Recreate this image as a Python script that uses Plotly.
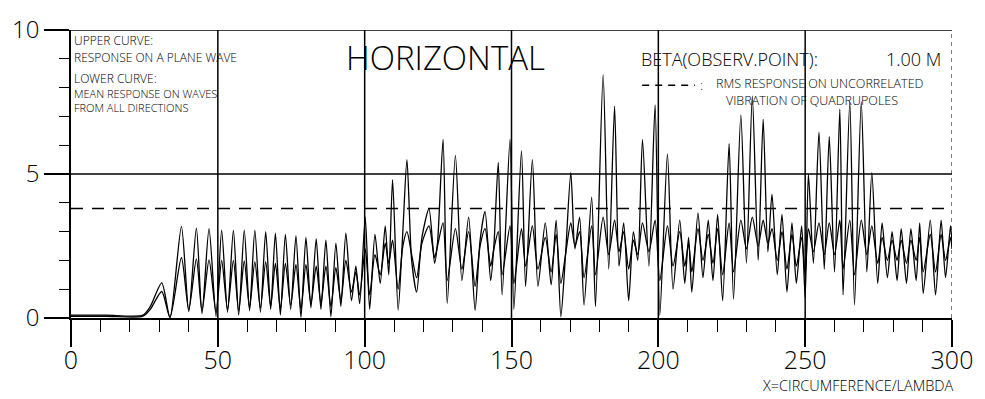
import plotly.graph_objects as go

# ---- data ----
x_pts = [0, 12.0, 24.5, 27.0, 30.9, 33.7, 37.6, 40.1, 42.7, 44.6, 47.0, 49.4, 51.3, 53.3, 55.3, 57.1,
         59.0, 60.8, 62.6, 64.5, 66.3, 68.0, 69.6, 71.3, 73.0, 74.8, 76.6, 78.3, 80.0, 81.7,
         83.5, 85.1, 86.8, 88.5, 90.2, 91.9, 93.6, 95.5, 97.0, 98.3, 100.2, 101.7, 103.5,
         105.3, 107.0, 108.2, 109.5, 111.4, 113.0, 114.4, 116.0, 117.7, 119.5, 121.9, 123.8,
         124.8, 126.7, 128.1, 130.9, 133.1, 135.4, 137.6, 139.3, 141.0, 142.9, 144.0, 145.5,
         146.8, 149.5, 150.8, 153.4, 154.8, 157.1, 159.0, 161.5, 163.5, 165.2, 166.8, 168.4,
         170.2, 171.6, 173.2, 174.7, 177.3, 178.6, 181.2, 183.1, 185.1, 186.6, 188.2, 189.9,
         191.5, 193.0, 194.6, 196.8, 198.9, 200.5, 203.1, 205.0, 207.3, 209.0, 210.3, 211.4,
         213.5, 215.2, 217.0, 218.6, 220.2, 221.9, 224.1, 225.6, 228.1, 230.0, 232.0, 234.0,
         235.7, 237.3, 238.7, 240.5, 242.1, 243.8, 245.5, 247.0, 248.8, 250.0, 251.1, 252.8,
         254.7, 256.5, 258.2, 260.0, 261.8, 262.9, 265.2, 266.8, 269.1, 271.0, 272.7, 274.7,
         276.2, 278.0, 279.6, 281.3, 282.7, 284.5, 286.0, 287.8, 289.0, 290.2, 292.6, 294.4,
         296.3, 297.8, 299.5, 300.0]

upper_y = [0.10, 0.10, 0.10, 0.40, 1.22, 0.02, 3.18, 0.22, 3.12, 0.15, 3.10, 0.05, 3.05, 0.20, 3.05, 0.10,
           3.05, 0.25, 3.05, 0.20, 3.00, 0.30, 2.95, 0.10, 2.90, 0.30, 2.85, 0.02, 2.80, 0.35,
           2.75, 0.30, 2.70, 0.05, 2.60, 0.40, 2.95, 0.60, 1.80, 0.50, 3.50, 0.30, 2.90,
           1.20, 3.20, 1.50, 4.80, 0.27, 3.00, 5.50, 2.00, 0.90, 2.80, 3.80, 1.90,
           2.60, 6.20, 0.50, 5.65, 1.30, 3.50, 0.27, 2.70, 3.70, 1.30, 2.50, 5.40,
           0.80, 6.20, 0.30, 5.80, 1.10, 5.50, 1.10, 3.30, 1.15, 3.40, 0.05, 2.20,
           5.05, 2.40, 3.50, 0.45, 4.20, 0.40, 8.45, 1.70, 7.35, 1.80, 3.30, 0.60,
           3.00, 2.00, 6.20, 1.80, 7.40, 0.10, 5.70, 1.00, 3.40, 1.20, 2.80, 0.90,
           3.65, 1.40, 3.40, 1.30, 3.60, 0.60, 6.05, 0.65, 7.05, 1.90, 7.70, 2.00,
           6.90, 2.30, 4.30, 1.50, 3.60, 0.90, 3.30, 1.20, 3.20, 0.70, 5.00, 1.90,
           6.45, 1.70, 6.30, 1.60, 7.25, 0.80, 7.50, 0.45, 7.50, 1.60, 5.05, 1.20,
           3.30, 1.40, 3.00, 1.30, 3.10, 1.20, 3.10, 1.30, 3.30, 0.85, 3.40, 0.80,
           3.40, 1.40, 3.20, 2.60]

lower_y = [0.06, 0.06, 0.06, 0.30, 0.92, 0.02, 2.10, 0.28, 2.05, 0.25, 2.02, 0.20, 2.00, 0.30, 2.00, 0.25,
           1.98, 0.35, 1.95, 0.35, 1.95, 0.40, 1.90, 0.30, 1.90, 0.45, 1.85, 0.30, 1.85, 0.50,
           1.80, 0.50, 1.80, 0.40, 1.75, 0.60, 2.00, 0.90, 1.60, 0.80, 2.40, 0.80, 2.20,
           1.50, 2.60, 1.90, 2.70, 1.00, 2.50, 3.00, 2.20, 1.40, 2.60, 3.20, 2.10,
           2.50, 3.30, 1.30, 3.10, 1.70, 3.00, 1.10, 2.50, 3.10, 1.80, 2.40, 3.00,
           1.50, 3.20, 1.20, 3.10, 1.80, 3.20, 1.70, 2.80, 1.60, 2.90, 1.20, 2.20,
           3.30, 2.50, 3.00, 1.40, 3.20, 1.50, 3.50, 2.20, 3.40, 2.30, 3.00, 1.70,
           2.70, 2.20, 3.30, 2.30, 3.40, 1.30, 3.20, 1.80, 3.00, 1.80, 2.60, 1.60,
           3.10, 2.00, 2.90, 1.90, 3.10, 1.50, 3.30, 1.60, 3.40, 2.40, 3.50, 2.50,
           3.40, 2.60, 3.10, 2.00, 3.00, 1.70, 2.90, 1.80, 2.80, 1.50, 3.10, 2.30,
           3.30, 2.20, 3.30, 2.20, 3.40, 1.70, 3.40, 1.50, 3.40, 2.20, 3.20, 1.90,
           2.80, 2.00, 2.70, 2.00, 2.70, 1.90, 2.70, 2.00, 2.80, 1.60, 2.90, 1.60,
           2.90, 2.00, 2.80, 2.40]

rms_level = 3.8
x_range = [0, 300]
y_range = [0, 10]
x_major = [0, 50, 100, 150, 200, 250, 300]
x_labels = ["0", "50", "100", "150", "200", "250", "300"]
y_major = [0, 5, 10]
y_labels = ["0", "5", "10"]
grid_x = [50, 100, 150, 200, 250]
grid_y = [5]

FONT = "Open Sans"
fig = go.Figure()

fig.add_trace(go.Scatter(x=x_range, y=[rms_level, rms_level], mode="lines",
                         line=dict(color="black", width=1.5, dash="12px,9px"),
                         hoverinfo="skip", showlegend=False))
fig.add_trace(go.Scatter(x=x_pts, y=upper_y, mode="lines",
                         line=dict(color="black", width=1.3, shape="spline", smoothing=0.7),
                         showlegend=False))
fig.add_trace(go.Scatter(x=x_pts, y=lower_y, mode="lines",
                         line=dict(color="black", width=1.3, shape="spline", smoothing=0.7),
                         showlegend=False))

shapes = []
for gx in grid_x:
    shapes.append(dict(type="line", xref="x", yref="y", x0=gx, x1=gx, y0=0, y1=10,
                       line=dict(color="black", width=1.5), layer="below"))
for gy in grid_y:
    shapes.append(dict(type="line", xref="x", yref="y", x0=0, x1=300, y0=gy, y1=gy,
                       line=dict(color="black", width=1.5), layer="below"))
shapes.append(dict(type="line", xref="x", yref="y", x0=0, x1=300, y0=10, y1=10,
                   line=dict(color="black", width=1.5), layer="below"))
shapes.append(dict(type="line", xref="x", yref="y", x0=300, x1=300, y0=0, y1=10,
                   line=dict(color="black", width=1, dash="4px,4px"), layer="below"))
shapes.append(dict(type="line", xref="x", yref="y", x0=194.5, x1=212.5, y0=8.08, y1=8.08,
                   line=dict(color="black", width=1.5, dash="7px,6px")))

ann = []
def txt(x, y, s, size, anchor="left", xref="x", yref="y"):
    ann.append(dict(x=x, y=y, xref=xref, yref=yref, text=s,
                    showarrow=False, xanchor=anchor, yanchor="middle", align="left",
                    font=dict(family=FONT, size=size, color="black", weight=300)))

txt(0.001, 9.63, "UPPER CURVE:", 12, xref="paper")
txt(0.001, 9.06, "RESPONSE ON A PLANE WAVE", 12, xref="paper")
txt(0.001, 8.33, "LOWER CURVE:", 12, xref="paper")
txt(0.001, 7.55, "MEAN RESPONSE ON WAVES<br>FROM ALL DIRECTIONS", 11, xref="paper")
txt(127.4, 9.05, "HORIZONTAL", 33, "center")
txt(193.5, 9.0, "BETA(OBSERV.POINT):", 18)
txt(296.8, 9.0, "1.00 M", 18, "right")
txt(213.5, 8.08, ":", 12)
txt(219.0, 8.14, "RMS RESPONSE ON UNCORRELATED", 12.5)
txt(222.4, 7.56, "VIBRATION OF QUADRUPOLES", 12.5)
txt(1.004, -0.236, "X=CIRCUMFERENCE/LAMBDA", 14.5, "right", xref="paper", yref="paper")

fig.update_layout(
    width=985, height=399,
    margin=dict(l=65, r=30, t=18, b=81),
    paper_bgcolor="white", plot_bgcolor="white",
    shapes=shapes, annotations=ann,
    xaxis=dict(range=x_range, tickvals=x_major, ticktext=x_labels,
               showgrid=False, zeroline=False, showline=True, linecolor="black", linewidth=1.5,
               ticks="outside", ticklen=27, tickwidth=1.5, tickcolor="black",
               ticklabelstandoff=-8,
               tickfont=dict(family=FONT, size=25, color="black", weight=300),
               minor=dict(tickvals=list(range(10, 300, 10)), ticks="outside", ticklen=12,
                          tickwidth=1.2, tickcolor="black", showgrid=False)),
    yaxis=dict(range=y_range, tickvals=y_major, ticktext=y_labels,
               showgrid=False, zeroline=False, showline=True, linecolor="black", linewidth=1.5,
               ticks="outside", ticklen=25, tickwidth=1.5, tickcolor="black",
               tickfont=dict(family=FONT, size=24, color="black", weight=300),
               minor=dict(tickvals=list(range(1, 10)), ticks="outside", ticklen=10,
                          tickwidth=1.2, tickcolor="black", showgrid=False)),
)

fig.write_html("out.html")
